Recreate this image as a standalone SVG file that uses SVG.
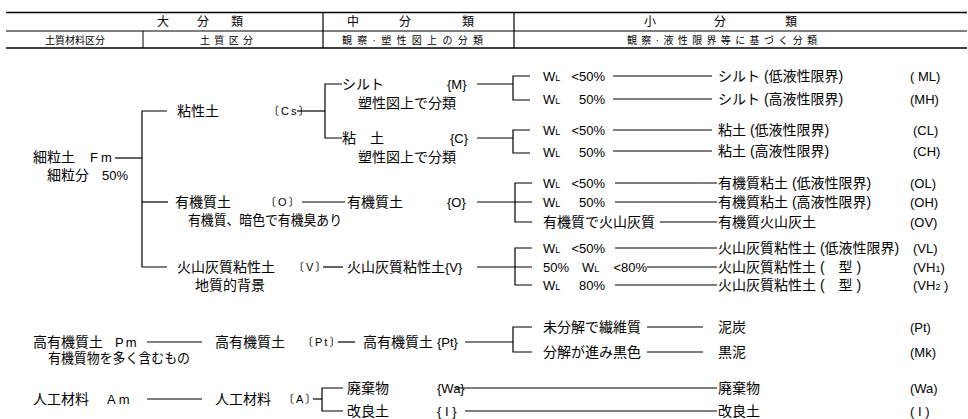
<svg xmlns="http://www.w3.org/2000/svg" width="968" height="419" viewBox="0 0 968 419">
<style>
text{font-family:"Liberation Sans","Noto Sans CJK JP",sans-serif;fill:#000}
.t{font-size:14px}
.l{font-size:13px}
.h1{font-size:12px}
.h2{font-size:10px}
.k{font-size:11px;letter-spacing:2px}
.s{font-size:9px}
.c line,.c polyline,.c path{stroke:#000;stroke-width:1.2;fill:none}
.hd line{stroke:#000;fill:none}
</style>
<rect width="968" height="419" fill="#fff"/>
<g id="header" class="hd">
<line x1="6" y1="12.5" x2="967" y2="12.5" stroke-width="1.6"/>
<line x1="6" y1="31" x2="967" y2="31" stroke-width="1"/>
<line x1="6" y1="48" x2="967" y2="48" stroke-width="1.4"/>
<line x1="143" y1="31" x2="143" y2="48" stroke-width="1"/>
<line x1="323" y1="12.5" x2="323" y2="48" stroke-width="1.2"/>
<line x1="514" y1="12.5" x2="514" y2="48" stroke-width="1.2"/>
<text class="h1" x="157" y="26">大</text>
<text class="h1" x="197" y="26">分</text>
<text class="h1" x="231" y="26">類</text>
<text class="h1" x="347" y="26">中</text>
<text class="h1" x="399" y="26">分</text>
<text class="h1" x="462" y="26">類</text>
<text class="h1" x="644" y="26">小</text>
<text class="h1" x="714" y="26">分</text>
<text class="h1" x="785" y="26">類</text>
<text class="h2" x="45" y="44">土質材料区分</text>
<text class="h2" x="200" y="44" textLength="53" lengthAdjust="spacing">土質区分</text>
<text class="h2" x="342" y="44" textLength="141" lengthAdjust="spacing">観察·塑性図上の分類</text>
<text class="h2" x="627" y="44" textLength="190" lengthAdjust="spacing">観察·液性限界等に基づく分類</text>
</g>
<g id="connectors" class="c">
<line x1="115" y1="158" x2="142" y2="158"/>
<polyline points="167,111 142,111 142,267 167,267"/>
<line x1="142" y1="202" x2="168" y2="202"/>
<line x1="297" y1="111" x2="325" y2="111"/>
<polyline points="342,84 325,84 325,138 342,138"/>
<line x1="302" y1="202" x2="345" y2="202"/>
<line x1="323" y1="267" x2="343" y2="267"/>
<line x1="477" y1="84" x2="513" y2="84"/>
<polyline points="530,76 513,76 513,100 530,100"/>
<line x1="477" y1="138" x2="513" y2="138"/>
<polyline points="530,130 513,130 513,153 530,153"/>
<line x1="477" y1="202" x2="532" y2="202"/>
<polyline points="532,183 515,183 515,222 532,222"/>
<line x1="477" y1="267" x2="532" y2="267"/>
<polyline points="532,248 515,248 515,285 532,285"/>
<line x1="613" y1="76" x2="712" y2="76"/>
<line x1="613" y1="99" x2="712" y2="99"/>
<line x1="613" y1="130" x2="712" y2="130"/>
<line x1="613" y1="151" x2="712" y2="151"/>
<line x1="615" y1="183" x2="717" y2="183"/>
<line x1="615" y1="202" x2="717" y2="202"/>
<line x1="660" y1="222" x2="717" y2="222"/>
<line x1="615" y1="248" x2="717" y2="248"/>
<line x1="647" y1="267" x2="717" y2="267"/>
<line x1="615" y1="285" x2="717" y2="285"/>
<line x1="147" y1="342" x2="202" y2="342"/>
<line x1="338" y1="342" x2="355" y2="342"/>
<line x1="465" y1="342" x2="513" y2="342"/>
<polyline points="532,327 513,327 513,352 532,352"/>
<line x1="647" y1="327" x2="703" y2="327"/>
<line x1="647" y1="352" x2="703" y2="352"/>
<line x1="147" y1="399" x2="202" y2="399"/>
<line x1="313" y1="399" x2="322" y2="399"/>
<polyline points="343,388 322,388 322,411 343,411"/>
<line x1="455" y1="388" x2="717" y2="388"/>
<line x1="465" y1="411" x2="717" y2="411"/>
</g>
<g id="fine-soil">
<text class="t" x="33" y="162">細粒土</text><text class="l" x="90" y="162" letter-spacing="3">Fm</text>
<text class="t" x="47" y="180">細粒分</text><text class="l" x="102" y="180">50%</text>
</g>
<g id="cohesive">
<text class="t" x="177" y="116">粘性土</text><text class="k" x="268" y="115">〔Cs〕</text>
</g>
<g id="organic">
<text class="t" x="175" y="207">有機質土</text><text class="k" x="265" y="206">〔O〕</text>
<text class="t" x="188" y="225" textLength="154" lengthAdjust="spacingAndGlyphs">有機質、暗色で有機臭あり</text>
</g>
<g id="volcanic">
<text class="t" x="177" y="272">火山灰質粘性土</text><text class="k" x="293" y="271">〔V〕</text>
<text class="t" x="195" y="290">地質的背景</text>
</g>
<g id="silt">
<text class="t" x="342" y="89">シルト</text><text class="l" x="447" y="89">{M}</text>
<text class="t" x="358" y="108">塑性図上で分類</text>
</g>
<g id="clay">
<text class="t" x="342" y="143">粘　土</text><text class="l" x="450" y="143">{C}</text>
<text class="t" x="358" y="162">塑性図上で分類</text>
</g>
<g id="organic-m">
<text class="t" x="347" y="207">有機質土</text><text class="l" x="447" y="207">{O}</text>
</g>
<g id="volcanic-m">
<text class="t" x="347" y="272">火山灰質粘性土<tspan class="l">{V}</tspan></text>
</g>
<g id="cond-silt">
<text class="l" x="543" y="81">W<tspan class="s">L</tspan></text><text class="l" x="605" y="81" text-anchor="end">&lt;50%</text>
<text class="l" x="543" y="104">W<tspan class="s">L</tspan></text><text class="l" x="605" y="104" text-anchor="end">50%</text>
</g>
<g id="cond-clay">
<text class="l" x="543" y="135">W<tspan class="s">L</tspan></text><text class="l" x="605" y="135" text-anchor="end">&lt;50%</text>
<text class="l" x="543" y="157">W<tspan class="s">L</tspan></text><text class="l" x="605" y="157" text-anchor="end">50%</text>
</g>
<g id="cond-organic">
<text class="l" x="543" y="188">W<tspan class="s">L</tspan></text><text class="l" x="605" y="188" text-anchor="end">&lt;50%</text>
<text class="l" x="543" y="207">W<tspan class="s">L</tspan></text><text class="l" x="605" y="207" text-anchor="end">50%</text>
<text class="t" x="543" y="227">有機質で火山灰質</text>
</g>
<g id="cond-volcanic">
<text class="l" x="543" y="253">W<tspan class="s">L</tspan></text><text class="l" x="605" y="253" text-anchor="end">&lt;50%</text>
<text class="l" x="543" y="272">50%</text><text class="l" x="582" y="272">W<tspan class="s">L</tspan></text><text class="l" x="647" y="272" text-anchor="end">&lt;80%</text>
<text class="l" x="543" y="290">W<tspan class="s">L</tspan></text><text class="l" x="605" y="290" text-anchor="end">80%</text>
</g>
<g id="result-silt">
<text class="t" x="718" y="81">シルト (低液性限界)</text><text class="l" x="910" y="81">( ML)</text>
<text class="t" x="718" y="104">シルト (高液性限界)</text><text class="l" x="910" y="104">(MH)</text>
</g>
<g id="result-clay">
<text class="t" x="718" y="135">粘土 (低液性限界)</text><text class="l" x="913" y="135">(CL)</text>
<text class="t" x="718" y="156">粘土 (高液性限界)</text><text class="l" x="913" y="156">(CH)</text>
</g>
<g id="result-organic">
<text class="t" x="718" y="188">有機質粘土 (低液性限界)</text><text class="l" x="910" y="188">(OL)</text>
<text class="t" x="718" y="207">有機質粘土 (高液性限界)</text><text class="l" x="910" y="207">(OH)</text>
<text class="t" x="718" y="227">有機質火山灰土</text><text class="l" x="910" y="227">(OV)</text>
</g>
<g id="result-volcanic">
<text class="t" x="718" y="253">火山灰質粘性土 (低液性限界)</text><text class="l" x="913" y="253">(VL)</text>
<text class="t" x="718" y="272">火山灰質粘性土 (　型 )</text><text class="l" x="913" y="272">(VH<tspan class="s">1</tspan>)</text>
<text class="t" x="718" y="290">火山灰質粘性土 (　型 )</text><text class="l" x="913" y="290">(VH<tspan class="s">2</tspan> )</text>
</g>
<g id="high-organic">
<text class="t" x="33" y="347">高有機質土</text><text class="l" x="115" y="347" letter-spacing="2">Pm</text>
<text class="t" x="48" y="363" textLength="142" lengthAdjust="spacingAndGlyphs">有機質物を多く含むもの</text>
<text class="t" x="215" y="347">高有機質土</text><text class="k" x="302" y="346">〔Pt〕</text>
<text class="t" x="363" y="347">高有機質土</text><text class="l" x="437" y="347">{Pt}</text>
</g>
<g id="peat">
<text class="t" x="543" y="332">未分解で繊維質</text><text class="t" x="718" y="332">泥炭</text><text class="l" x="910" y="332">(Pt)</text>
<text class="t" x="543" y="357">分解が進み黒色</text><text class="t" x="718" y="357">黒泥</text><text class="l" x="910" y="357">(Mk)</text>
</g>
<g id="artificial">
<text class="t" x="33" y="404">人工材料</text><text class="l" x="107" y="404" letter-spacing="3">Am</text>
<text class="t" x="215" y="404">人工材料</text><text class="k" x="283" y="403" letter-spacing="0">〔A〕</text>
<text class="t" x="347" y="393">廃棄物</text><text class="l" x="437" y="393">{Wa}</text>
<text class="t" x="347" y="416">改良土</text><text class="l" x="437" y="416">{ I }</text>
<text class="t" x="718" y="393">廃棄物</text><text class="l" x="910" y="393">(Wa)</text>
<text class="t" x="718" y="416">改良土</text><text class="l" x="910" y="416">( I )</text>
</g>
</svg>
